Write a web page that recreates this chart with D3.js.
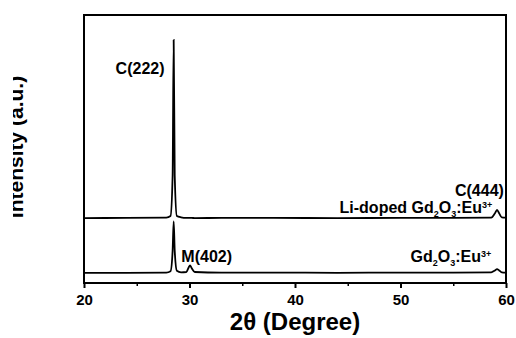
<!DOCTYPE html>
<html>
<head>
<meta charset="utf-8">
<script src="https://cdn.jsdelivr.net/npm/d3@7"></script>
<style>
  body { margin: 0; background: #fff; }
  text { font-family: "Liberation Sans", Arial, sans-serif; font-weight: bold; fill: #000; }
</style>
</head>
<body>
<div class="chart"></div>
<script>
// Data (2theta in degrees, intensity in a.u. incl. stacking offset)
var twoTheta = [20, 24, 27.8, 28.2, 28.4, 28.5, 28.6, 28.8, 29.2, 29.7, 29.9, 30.05, 30.2, 30.5, 33, 38, 44, 50, 55, 58.6, 58.95, 59.15, 59.35, 59.6, 60];
var liDoped  = [24.2, 24.3, 24.4, 25.0, 40, 90.7, 40, 25.0, 24.5, 24.3, 24.3, 24.3, 24.3, 24.2, 24.3, 24.3, 24.2, 24.3, 24.3, 24.4, 26.0, 27.3, 26.0, 24.5, 24.4];
var undoped  = [3.8, 3.8, 3.9, 4.4, 12, 23.0, 12, 4.6, 4.0, 4.1, 5.6, 6.6, 5.6, 4.1, 3.9, 3.9, 3.8, 3.9, 3.9, 4.0, 4.7, 5.2, 4.7, 4.0, 3.9];
var xTicks = [20, 30, 40, 50, 60];
var xMinorTicks = [25, 35, 45, 55];

var svgWidth = 516;
var svgHeight = 338;
var margin = { top: 15, right: 10, bottom: 55, left: 84 };
var width = svgWidth - margin.left - margin.right;
var height = svgHeight - margin.top - margin.bottom;

var svg = d3.select(".chart")
  .append("svg")
  .attr("width", svgWidth)
  .attr("height", svgHeight);

var chart = svg.append("g")
  .attr("transform", "translate(" + margin.left + "," + margin.top + ")");

var x = d3.scaleLinear().domain([20, 60]).range([0, width]);
var y = d3.scaleLinear().domain([0, 100]).range([height, 0]);

var line = d3.line()
  .x(function(d, i) { return x(twoTheta[i]); })
  .y(function(d) { return y(d); })
  .curve(d3.curveMonotoneX);

// curves
[liDoped, undoped].forEach(function(series) {
  chart.append("path")
    .datum(series)
    .attr("d", line)
    .attr("fill", "none")
    .attr("stroke", "#000")
    .attr("stroke-width", 1.8);
});

// frame
chart.append("rect")
  .attr("width", width)
  .attr("height", height)
  .attr("fill", "none")
  .attr("stroke", "#000")
  .attr("stroke-width", 2);

// x axis
var xAxis = chart.append("g")
  .attr("transform", "translate(0," + height + ")")
  .call(d3.axisBottom(x).tickValues(xTicks).tickSize(5).tickPadding(6).tickFormat(d3.format("d")));
xAxis.select(".domain").remove();
xAxis.selectAll("line").attr("stroke-width", 2);
xAxis.selectAll("text").style("font-size", "15px").style("font-family", "Liberation Sans, Arial, sans-serif").style("font-weight", "bold");

chart.append("g")
  .attr("transform", "translate(0," + height + ")")
  .call(d3.axisBottom(x).tickValues(xMinorTicks).tickSize(3).tickFormat(""))
  .call(function(g) { g.select(".domain").remove(); g.selectAll("line").attr("stroke-width", 1.5); });

// axis titles
svg.append("text")
  .attr("x", 295)
  .attr("y", 330)
  .attr("text-anchor", "middle")
  .style("font-size", "24px")
  .text("2θ (Degree)");

svg.append("text")
  .attr("transform", "translate(23,147) rotate(-90)")
  .attr("text-anchor", "middle")
  .style("font-size", "21px")
  .text("Intensity (a.u.)");
// the scan cut off the top of the y label
svg.append("rect").attr("x", 0).attr("y", 0).attr("width", 13).attr("height", 300).attr("fill", "#fff");

// peak labels
chart.append("text").attr("x", x(28.2) - 6).attr("y", 74 - margin.top)
  .attr("text-anchor", "end").style("font-size", "16px").text("C(222)");
chart.append("text").attr("x", x(29.7) - 5).attr("y", 262 - margin.top)
  .attr("text-anchor", "start").style("font-size", "16px").text("M(402)");
chart.append("text").attr("x", x(59.8)).attr("y", 196 - margin.top)
  .attr("text-anchor", "end").style("font-size", "16px").text("C(444)");

function formula(xPos, yPos, prefix) {
  var t = chart.append("text").attr("x", xPos).attr("y", yPos)
    .attr("text-anchor", "end").style("font-size", "16px");
  t.append("tspan").text(prefix + "Gd");
  t.append("tspan").attr("dy", 4).style("font-size", "9px").text("2");
  t.append("tspan").attr("dy", -4).text("O");
  t.append("tspan").attr("dy", 4).style("font-size", "9px").text("3");
  t.append("tspan").attr("dy", -4).text(":Eu");
  t.append("tspan").attr("dy", -5).style("font-size", "9px").text("3+");
}
formula(x(58.7), 213 - margin.top, "Li-doped ");
formula(x(58.6), 262 - margin.top, "");
</script>
</body>
</html>
